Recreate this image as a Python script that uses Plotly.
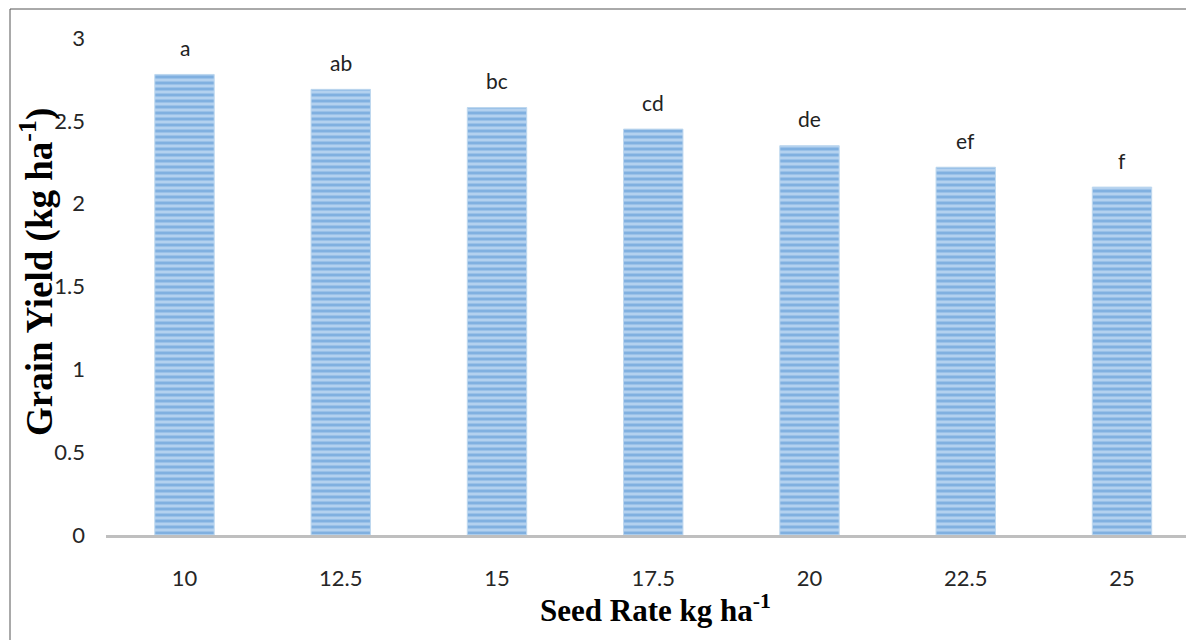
import plotly.graph_objects as go

seed_rates = ["10", "12.5", "15", "17.5", "20", "22.5", "25"]
grain_yield = [2.78, 2.69, 2.58, 2.45, 2.35, 2.22, 2.10]
letters = ["a", "ab", "bc", "cd", "de", "ef", "f"]
y_ticks = [0, 0.5, 1, 1.5, 2, 2.5, 3]
y_tick_labels = ["0", "0.5", "1", "1.5", "2", "2.5", "3"]

# page body adds an 8px offset; positions below are in figure pixels
OFF = 8
W, H = 1194, 640
L, T, B = 106 - OFF, 38 - OFF, 535 - OFF
plot_w = W - L
plot_h = B - T
cat_px = 156.25
first_center = 184.5 - OFF
x0 = -0.5 - (first_center - L - cat_px / 2) / cat_px
x1 = x0 + plot_w / cat_px

fig = go.Figure()
fig.add_trace(go.Bar(
    x=seed_rates,
    y=grain_yield,
    width=0.38,
    marker=dict(
        color="#B3D1EF",
        line=dict(color="#BDD7EE", width=1),
        pattern=dict(shape="-", fgcolor="#4E8FD2", size=6, solidity=0.5, fillmode="overlay"),
    ),
    hoverinfo="x+y",
    showlegend=False,
))

for i, (val, lab) in enumerate(zip(grain_yield, letters)):
    fig.add_annotation(
        x=i, y=val, text=lab, showarrow=False,
        yanchor="middle", yshift=27,
        font=dict(family="Lato", size=21, color="#222222"),
    )

fig.add_annotation(
    xref="paper", yref="paper",
    x=(37 - OFF - L) / plot_w, y=(B - (272 - OFF)) / plot_h,
    text="<b>Grain Yield (kg ha<sup>-1</sup>)</b>", textangle=-90, showarrow=False,
    xanchor="center", yanchor="middle",
    font=dict(family="Liberation Serif", size=37, color="#000000"),
)
fig.add_annotation(
    xref="paper", yref="paper",
    x=(655 - OFF - L) / plot_w, y=(B - (608 - OFF)) / plot_h,
    text="<b>Seed Rate kg ha<sup>-1</sup></b>", showarrow=False,
    xanchor="center", yanchor="middle",
    font=dict(family="Liberation Serif", size=31, color="#000000"),
)

# outer chart border
fig.add_shape(
    type="rect", xref="paper", yref="paper",
    x0=(10 - OFF - L) / plot_w, y0=(B - 700) / plot_h,
    x1=(1230 - L) / plot_w, y1=(B - (9 - OFF)) / plot_h,
    line=dict(color="#555555", width=1), fillcolor="rgba(0,0,0,0)", layer="below",
)

fig.update_layout(
    width=W, height=H,
    margin=dict(l=L, r=0, t=T, b=H - B, pad=0),
    plot_bgcolor="white", paper_bgcolor="white",
    bargap=0.62,
    xaxis=dict(
        type="category", range=[x0, x1],
        showgrid=False, zeroline=False,
        showline=True, linecolor="#BFBFBF", linewidth=3,
        ticks="", ticklabelstandoff=22,
        tickfont=dict(family="Lato", size=22, color="#262626"),
    ),
    yaxis=dict(
        range=[0, 3], tickvals=y_ticks, ticktext=y_tick_labels,
        showgrid=False, zeroline=False, showline=False,
        ticks="", ticklabelstandoff=20,
        tickfont=dict(family="Lato", size=22, color="#262626"),
    ),
)

fig.write_html("out.html")
